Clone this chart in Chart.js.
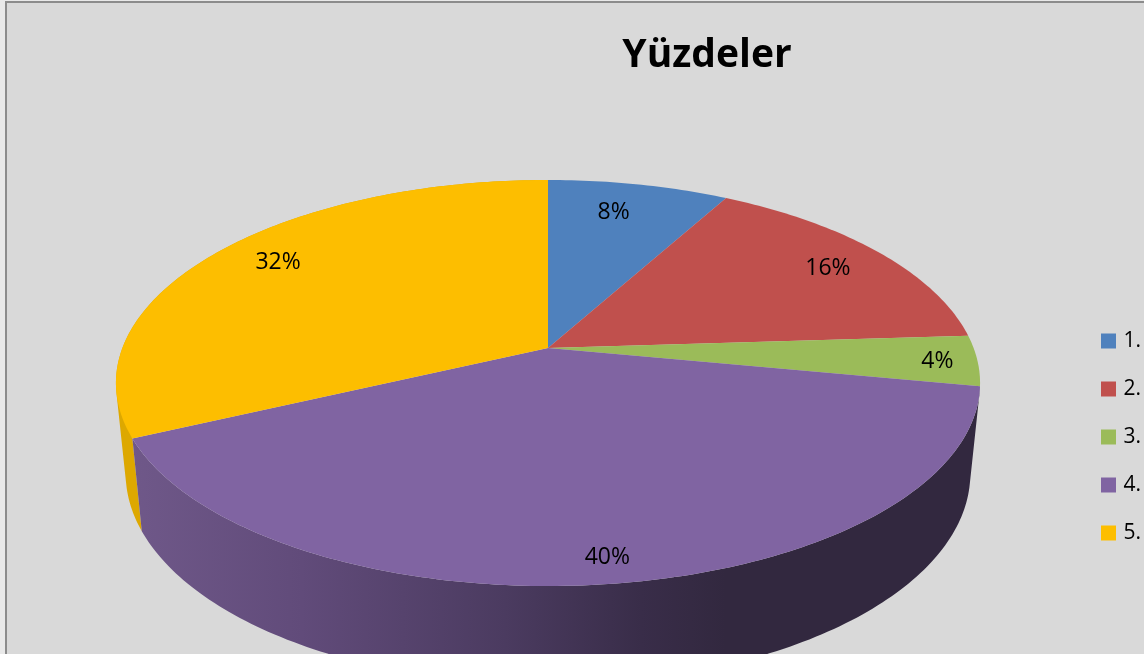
<!DOCTYPE html>
<html>
<head>
<meta charset="utf-8">
<title>Yüzdeler</title>
<script src="https://cdn.jsdelivr.net/npm/chart.js@4"></script>
<style>
  html, body { margin: 0; padding: 0; background: #e9e9e9; overflow: hidden; }
  canvas { display: block; }
</style>
</head>
<body>
<canvas id="pieChart" width="1144" height="654"></canvas>
<script>
const categories = ['1.', '2.', '3.', '4.', '5.'];
const percentages = [8, 16, 4, 40, 32];
const sliceColors = ['#4f81bd', '#c0504d', '#9bbb59', '#8064a2', '#fdbe00'];
const chartTitle = 'Yüzdeler';

// label offset from the slice rim, in pixels
const labelShift = [[-25, 28], [-49, 17], [-40, 1], [-5, -26], [59, 11]];

// perspective of the tilted disc
const PERSPECTIVE = -0.1724;
const topFace = { cx: 548, cy: 348, a: 425.6, b: 197 };
const bottomFace = { cx: 548, cy: 437, a: 416, b: 205 };

function project(face, angle) {
  // angle comes from the arc element, -PI/2 is 12 o'clock
  const X = Math.cos(angle);
  const Y = Math.sin(angle);
  const w = 1 + PERSPECTIVE * Y;
  return { x: face.cx + face.a * X / w, y: face.cy + face.b * Y / w };
}

function rimPoints(face, start, end) {
  const steps = Math.max(8, Math.ceil((end - start) * 60));
  const pts = [];
  for (let i = 0; i <= steps; i++) {
    pts.push(project(face, start + (end - start) * i / steps));
  }
  return pts;
}

function addPolygon(ctx, pts) {
  pts.forEach((p, i) => (i ? ctx.lineTo(p.x, p.y) : ctx.moveTo(p.x, p.y)));
  ctx.closePath();
}

function signedArea(pts) {
  let sum = 0;
  pts.forEach((p, i) => {
    const q = pts[(i + 1) % pts.length];
    sum += p.x * q.y - q.x * p.y;
  });
  return sum / 2;
}

const panelPlugin = {
  id: 'panel',
  beforeDraw(chart) {
    const ctx = chart.ctx;
    ctx.save();
    ctx.fillStyle = '#d9d9d9';
    ctx.fillRect(6, 2, chart.width - 6, chart.height - 2);
    ctx.strokeStyle = '#8c8c8c';
    ctx.lineWidth = 2;
    ctx.beginPath();
    ctx.moveTo(6, chart.height);
    ctx.lineTo(6, 2);
    ctx.lineTo(chart.width, 2);
    ctx.stroke();
    ctx.restore();
  },
  afterLayout(chart) {
    // title sits over the pie, legend hugs the right edge
    const title = chart.titleBlock;
    const w = title.right - title.left;
    title.left = 707 - w / 2;
    title.right = 707 + w / 2;
    title.top = 32;
    title.bottom = title.top + title.height;

    const legend = chart.legend;
    const pad = legend.options.labels.padding;
    legend.left = 1101 - pad;
    legend.right = 1141;
    const lh = legend.bottom - legend.top;
    legend.top = 437 - lh / 2;
    legend.bottom = legend.top + lh;
  }
};

const disc3dPlugin = {
  id: 'disc3d',
  beforeDatasetsDraw(chart) {
    const ctx = chart.ctx;
    const arcs = chart.getDatasetMeta(0).data;
    ctx.save();

    // side wall: yellow slice first, purple in front of it
    const wallFills = [null, null, null, wallGradient(ctx), '#dda800'];
    [4, 3].forEach(i => {
      const arc = arcs[i];
      const top = rimPoints(topFace, arc.startAngle, arc.endAngle);
      const bottom = rimPoints(bottomFace, arc.startAngle, arc.endAngle);
      ctx.fillStyle = wallFills[i];
      // ruled strips in one path so the outline keeps the tangent edge of the cylinder
      ctx.beginPath();
      for (let k = 0; k < top.length - 1; k++) {
        const quad = [top[k], top[k + 1], bottom[k + 1], bottom[k]];
        addPolygon(ctx, signedArea(quad) < 0 ? quad.reverse() : quad);
      }
      ctx.fill();
    });

    // top face
    arcs.forEach((arc, i) => {
      const pts = rimPoints(topFace, arc.startAngle, arc.endAngle);
      pts.unshift({ x: topFace.cx, y: topFace.cy });
      ctx.fillStyle = sliceColors[i];
      ctx.beginPath();
      addPolygon(ctx, pts);
      ctx.fill();
    });

    // percentage labels
    ctx.fillStyle = '#000';
    ctx.font = '23px "Open Sans", sans-serif';
    ctx.textAlign = 'center';
    ctx.textBaseline = 'middle';
    arcs.forEach((arc, i) => {
      const p = project(topFace, (arc.startAngle + arc.endAngle) / 2);
      ctx.fillText(percentages[i] + '%', p.x + labelShift[i][0], p.y + labelShift[i][1]);
    });

    ctx.restore();
    return false;
  }
};

function wallGradient(ctx) {
  const g = ctx.createLinearGradient(132, 0, 980, 0);
  g.addColorStop(0, '#6f5889');
  g.addColorStop(0.2, '#614b7a');
  g.addColorStop(0.44, '#4b3b60');
  g.addColorStop(0.6, '#392d49');
  g.addColorStop(0.7, '#32283f');
  g.addColorStop(1, '#32283f');
  return g;
}

new Chart(document.getElementById('pieChart'), {
  type: 'pie',
  data: {
    labels: categories,
    datasets: [{
      data: percentages,
      backgroundColor: sliceColors,
      borderWidth: 0
    }]
  },
  options: {
    responsive: false,
    animation: false,
    plugins: {
      title: {
        display: true,
        text: chartTitle,
        color: '#000',
        font: { family: '"Open Sans", sans-serif', size: 39, weight: 'bold' },
        padding: 0
      },
      legend: {
        position: 'right',
        labels: {
          color: '#000',
          boxWidth: 15,
          boxHeight: 15,
          padding: 27,
          textAlign: 'right',
          font: { family: '"Open Sans", sans-serif', size: 21 }
        }
      },
      tooltip: { enabled: false }
    }
  },
  plugins: [panelPlugin, disc3dPlugin]
});
</script>
</body>
</html>
